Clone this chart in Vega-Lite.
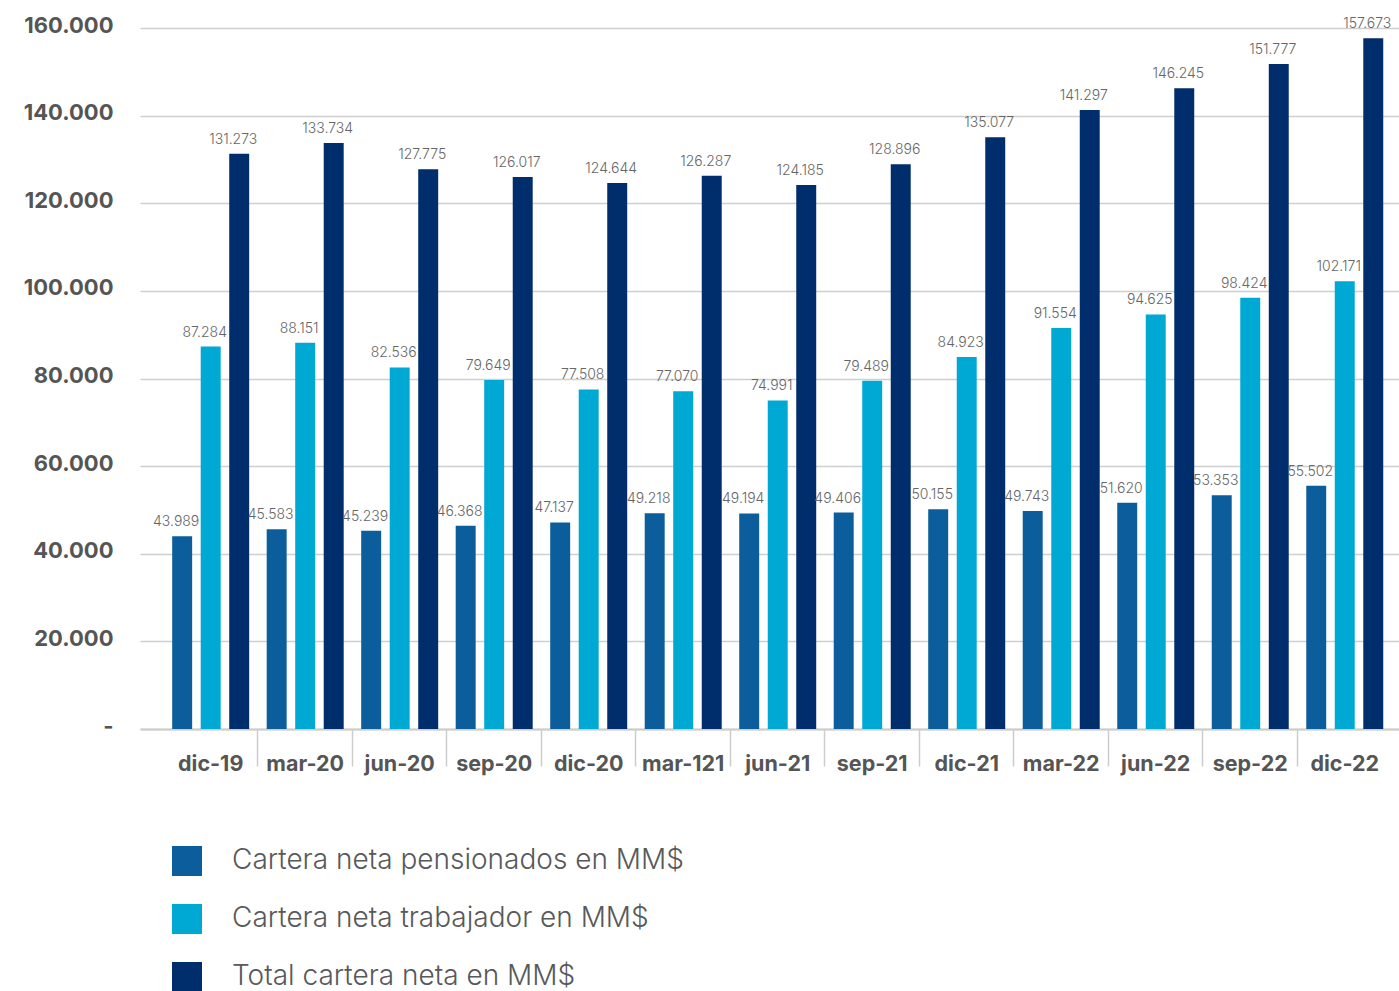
{
  "$schema": "https://vega.github.io/schema/vega-lite/v6.json",
  "autosize": {"type": "none"},
  "padding": {"left": 140, "top": 28, "right": 0, "bottom": 262},
  "width": 1259,
  "height": 701,
  "background": "white",
  "data": {
    "values": [
      {"periodo": "dic-19", "serie": "Cartera neta pensionados en MM$", "valor": 43989},
      {"periodo": "dic-19", "serie": "Cartera neta trabajador en MM$", "valor": 87284},
      {"periodo": "dic-19", "serie": "Total cartera neta en MM$", "valor": 131273},
      {"periodo": "mar-20", "serie": "Cartera neta pensionados en MM$", "valor": 45583},
      {"periodo": "mar-20", "serie": "Cartera neta trabajador en MM$", "valor": 88151},
      {"periodo": "mar-20", "serie": "Total cartera neta en MM$", "valor": 133734},
      {"periodo": "jun-20", "serie": "Cartera neta pensionados en MM$", "valor": 45239},
      {"periodo": "jun-20", "serie": "Cartera neta trabajador en MM$", "valor": 82536},
      {"periodo": "jun-20", "serie": "Total cartera neta en MM$", "valor": 127775},
      {"periodo": "sep-20", "serie": "Cartera neta pensionados en MM$", "valor": 46368},
      {"periodo": "sep-20", "serie": "Cartera neta trabajador en MM$", "valor": 79649},
      {"periodo": "sep-20", "serie": "Total cartera neta en MM$", "valor": 126017},
      {"periodo": "dic-20", "serie": "Cartera neta pensionados en MM$", "valor": 47137},
      {"periodo": "dic-20", "serie": "Cartera neta trabajador en MM$", "valor": 77508},
      {"periodo": "dic-20", "serie": "Total cartera neta en MM$", "valor": 124644},
      {"periodo": "mar-121", "serie": "Cartera neta pensionados en MM$", "valor": 49218},
      {"periodo": "mar-121", "serie": "Cartera neta trabajador en MM$", "valor": 77070},
      {"periodo": "mar-121", "serie": "Total cartera neta en MM$", "valor": 126287},
      {"periodo": "jun-21", "serie": "Cartera neta pensionados en MM$", "valor": 49194},
      {"periodo": "jun-21", "serie": "Cartera neta trabajador en MM$", "valor": 74991},
      {"periodo": "jun-21", "serie": "Total cartera neta en MM$", "valor": 124185},
      {"periodo": "sep-21", "serie": "Cartera neta pensionados en MM$", "valor": 49406},
      {"periodo": "sep-21", "serie": "Cartera neta trabajador en MM$", "valor": 79489},
      {"periodo": "sep-21", "serie": "Total cartera neta en MM$", "valor": 128896},
      {"periodo": "dic-21", "serie": "Cartera neta pensionados en MM$", "valor": 50155},
      {"periodo": "dic-21", "serie": "Cartera neta trabajador en MM$", "valor": 84923},
      {"periodo": "dic-21", "serie": "Total cartera neta en MM$", "valor": 135077},
      {"periodo": "mar-22", "serie": "Cartera neta pensionados en MM$", "valor": 49743},
      {"periodo": "mar-22", "serie": "Cartera neta trabajador en MM$", "valor": 91554},
      {"periodo": "mar-22", "serie": "Total cartera neta en MM$", "valor": 141297},
      {"periodo": "jun-22", "serie": "Cartera neta pensionados en MM$", "valor": 51620},
      {"periodo": "jun-22", "serie": "Cartera neta trabajador en MM$", "valor": 94625},
      {"periodo": "jun-22", "serie": "Total cartera neta en MM$", "valor": 146245},
      {"periodo": "sep-22", "serie": "Cartera neta pensionados en MM$", "valor": 53353},
      {"periodo": "sep-22", "serie": "Cartera neta trabajador en MM$", "valor": 98424},
      {"periodo": "sep-22", "serie": "Total cartera neta en MM$", "valor": 151777},
      {"periodo": "dic-22", "serie": "Cartera neta pensionados en MM$", "valor": 55502},
      {"periodo": "dic-22", "serie": "Cartera neta trabajador en MM$", "valor": 102171},
      {"periodo": "dic-22", "serie": "Total cartera neta en MM$", "valor": 157673}
    ]
  },
  "encoding": {
    "x": {
      "field": "periodo",
      "type": "nominal",
      "sort": null,
      "title": null,
      "scale": {"paddingInner": 0, "paddingOuter": 0.161, "align": 0.77},
      "axis": {
        "bandPosition": 0,
        "labelAngle": 0,
        "labelFont": "Inter",
        "labelFontSize": 21.5,
        "labelFontWeight": "bold",
        "labelColor": "#555555",
        "labelPadding": -13,
        "labelBaseline": "top",
        "domainColor": "#cccccc",
        "domainWidth": 2,
        "tickColor": "#cccccc",
        "tickWidth": 1.5,
        "tickSize": 37,
        "tickOpacity": {"condition": {"test": "datum.value === 'dic-19'", "value": 0}, "value": 1}
      }
    },
    "xOffset": {
      "field": "serie",
      "type": "nominal",
      "scale": {
        "domain": ["Cartera neta pensionados en MM$", "Cartera neta trabajador en MM$", "Total cartera neta en MM$"],
        "paddingInner": 0.3,
        "paddingOuter": 0.307
      }
    },
    "y": {
      "field": "valor",
      "type": "quantitative",
      "title": null,
      "scale": {"domain": [0, 160000], "nice": false},
      "axis": {
        "values": [0, 20000, 40000, 60000, 80000, 100000, 120000, 140000, 160000],
        "labelExpr": "datum.value === 0 ? '-' : format(datum.value, ',')",
        "labelFont": "Inter",
        "labelFontSize": 22,
        "labelFontWeight": "bold",
        "labelColor": "#555555",
        "labelPadding": 27,
        "labelOffset": -3,
        "ticks": false,
        "domain": false,
        "gridColor": "#cfcfcf",
        "gridWidth": 1.5
      }
    }
  },
  "layer": [
    {
      "mark": {"type": "bar"},
      "encoding": {
        "color": {
          "field": "serie",
          "type": "nominal",
          "scale": {
            "domain": ["Cartera neta pensionados en MM$", "Cartera neta trabajador en MM$", "Total cartera neta en MM$"],
            "range": ["#0B5E9B", "#00A8D4", "#002D6B"]
          },
          "legend": {
            "title": null,
            "orient": "none",
            "legendX": 32,
            "legendY": 818,
            "direction": "vertical",
            "symbolType": "square",
            "symbolSize": 900,
            "symbolStrokeWidth": 0,
            "symbolOpacity": 1,
            "labelFont": "Inter",
            "labelFontSize": 28,
            "labelFontWeight": 300,
            "labelColor": "#58595b",
            "labelOffset": 30,
            "rowPadding": 28,
            "labelLimit": 800
          }
        }
      }
    },
    {
      "mark": {"type": "text", "baseline": "bottom", "dy": -7, "dx": -6, "font": "Inter", "fontSize": 14, "fontWeight": 300, "color": "#666666"},
      "encoding": {
        "text": {"field": "valor", "type": "quantitative", "format": ","}
      }
    }
  ],
  "config": {
    "locale": {
      "number": {"decimal": ",", "thousands": ".", "grouping": [3], "currency": ["$", ""]}
    },
    "view": {"stroke": null}
  }
}
